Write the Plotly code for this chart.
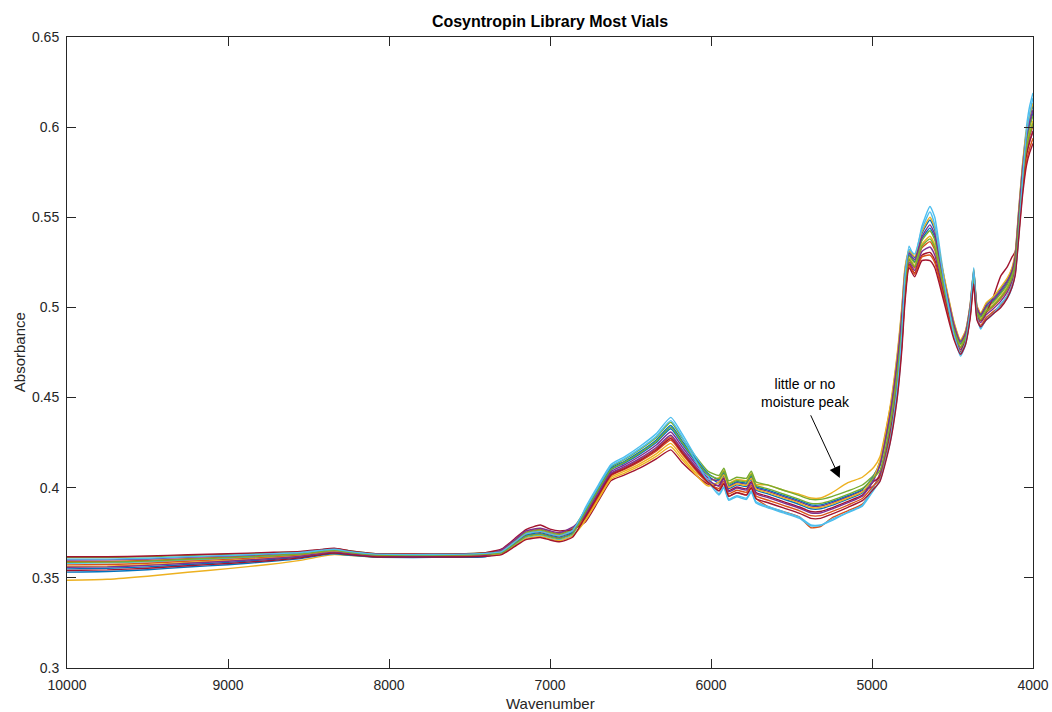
import plotly.graph_objects as go

# Wavenumber grid (cm^-1), shared by every vial spectrum
WAVENUMBER = [
    10000, 9750, 9500, 9250, 9000, 8750, 8550, 8420, 8340, 8250, 8100, 7850, 7600, 7400,
    7300, 7220, 7150, 7060, 7000, 6940, 6860, 6780, 6700, 6620, 6540, 6440, 6340, 6250,
    6180, 6100, 6020, 5950, 5920, 5890, 5840, 5780, 5750, 5720, 5650, 5550, 5450, 5380,
    5320, 5250, 5150, 5060,
    4990, 4950, 4890, 4845, 4815, 4795, 4770, 4735, 4690, 4640, 4610, 4570, 4530, 4490,
    4450, 4420, 4390, 4368, 4348, 4325, 4290, 4250, 4200, 4160, 4130, 4110, 4090, 4065,
    4040, 4020, 4000,
]

# Absorbance spectra, one list per vial
VIAL_01 = [0.3550, 0.3553, 0.3561, 0.3574, 0.3586, 0.3601, 0.3616, 0.3633, 0.3640, 0.3632, 0.3620, 0.3617, 0.3618, 0.3622,
           0.3648, 0.3699, 0.3746, 0.3760, 0.3746, 0.3736, 0.3765, 0.3862, 0.3984, 0.4099, 0.4135, 0.4188, 0.4251, 0.4327, 0.4244, 0.4151, 0.4068, 0.4026, 0.4066, 0.3996, 0.4016, 0.4007, 0.4047, 0.3987, 0.3967, 0.3937, 0.3907, 0.3883, 0.3883, 0.3902, 0.3937, 0.3971,
           0.4052, 0.4124, 0.4384, 0.4670, 0.4940, 0.5174, 0.5292, 0.5254, 0.5380, 0.5440, 0.5388, 0.5210, 0.5046, 0.4892, 0.4800, 0.4850, 0.5000, 0.5190, 0.4990, 0.4950, 0.5002, 0.5032, 0.5084, 0.5134, 0.5194, 0.5276, 0.5490, 0.5752, 0.5934, 0.6016, 0.6078]
VIAL_02 = [0.3590, 0.3591, 0.3597, 0.3606, 0.3615, 0.3625, 0.3634, 0.3648, 0.3654, 0.3643, 0.3629, 0.3626, 0.3627, 0.3633,
           0.3653, 0.3706, 0.3754, 0.3769, 0.3755, 0.3745, 0.3775, 0.3842, 0.3961, 0.4076, 0.4110, 0.4158, 0.4216, 0.4282, 0.4204, 0.4116, 0.4038, 0.3984, 0.4024, 0.3954, 0.3974, 0.3961, 0.4001, 0.3941, 0.3897, 0.3867, 0.3837, 0.3778, 0.3785, 0.3832, 0.3872, 0.3909,
           0.4004, 0.4082, 0.4324, 0.4595, 0.4865, 0.5114, 0.5262, 0.5219, 0.5330, 0.5365, 0.5318, 0.5160, 0.5006, 0.4862, 0.4775, 0.4825, 0.4975, 0.5165, 0.4965, 0.4925, 0.4972, 0.5002, 0.5049, 0.5099, 0.5159, 0.5236, 0.5440, 0.5697, 0.5874, 0.5951, 0.6008]
VIAL_03 = [0.3487, 0.3492, 0.3509, 0.3531, 0.3551, 0.3574, 0.3597, 0.3619, 0.3629, 0.3625, 0.3616, 0.3616, 0.3618, 0.3623,
           0.3640, 0.3702, 0.3748, 0.3763, 0.3749, 0.3739, 0.3768, 0.3826, 0.3943, 0.4058, 0.4090, 0.4134, 0.4188, 0.4246, 0.4172, 0.4088, 0.4040, 0.4056, 0.4096, 0.4026, 0.4046, 0.4039, 0.4079, 0.4019, 0.4016, 0.3986, 0.3963, 0.3943, 0.3943, 0.3972, 0.4028, 0.4058,
           0.4112, 0.4173, 0.4432, 0.4625, 0.4895, 0.5138, 0.5274, 0.5233, 0.5350, 0.5395, 0.5346, 0.5180, 0.5022, 0.4874, 0.4785, 0.4835, 0.4985, 0.5175, 0.4975, 0.4935, 0.4984, 0.5014, 0.5063, 0.5113, 0.5173, 0.5252, 0.5460, 0.5719, 0.5898, 0.5977, 0.6036]
VIAL_04 = [0.3599, 0.3600, 0.3605, 0.3614, 0.3621, 0.3630, 0.3639, 0.3651, 0.3658, 0.3646, 0.3632, 0.3628, 0.3629, 0.3635,
           0.3641, 0.3688, 0.3732, 0.3745, 0.3731, 0.3721, 0.3748, 0.3854, 0.3975, 0.4090, 0.4125, 0.4176, 0.4237, 0.4309, 0.4228, 0.4137, 0.4056, 0.4038, 0.4078, 0.4008, 0.4028, 0.4020, 0.4060, 0.4000, 0.3981, 0.3951, 0.3921, 0.3898, 0.3898, 0.3916, 0.3950, 0.3984,
           0.4010, 0.4075, 0.4300, 0.4565, 0.4835, 0.5090, 0.5250, 0.5205, 0.5310, 0.5335, 0.5290, 0.5140, 0.4990, 0.4850, 0.4765, 0.4815, 0.4965, 0.5155, 0.4955, 0.4915, 0.4960, 0.4990, 0.5035, 0.5085, 0.5145, 0.5220, 0.5420, 0.5675, 0.5850, 0.5925, 0.5980]
VIAL_05 = [0.3613, 0.3613, 0.3617, 0.3624, 0.3631, 0.3638, 0.3645, 0.3656, 0.3662, 0.3650, 0.3635, 0.3631, 0.3632, 0.3639,
           0.3651, 0.3704, 0.3751, 0.3766, 0.3752, 0.3742, 0.3771, 0.3878, 0.4002, 0.4117, 0.4155, 0.4212, 0.4279, 0.4363, 0.4276, 0.4179, 0.4092, 0.4068, 0.4108, 0.4038, 0.4058, 0.4052, 0.4092, 0.4032, 0.4016, 0.3986, 0.3956, 0.3935, 0.3935, 0.3951, 0.3982, 0.4015,
           0.4070, 0.4131, 0.4372, 0.4655, 0.4925, 0.5162, 0.5286, 0.5247, 0.5370, 0.5425, 0.5374, 0.5200, 0.5038, 0.4886, 0.4795, 0.4845, 0.4995, 0.5185, 0.4985, 0.4945, 0.4996, 0.5026, 0.5077, 0.5127, 0.5187, 0.5268, 0.5480, 0.5741, 0.5922, 0.6003, 0.6064]
VIAL_06 = [0.3581, 0.3583, 0.3589, 0.3599, 0.3608, 0.3619, 0.3630, 0.3656, 0.3662, 0.3646, 0.3627, 0.3624, 0.3625, 0.3630,
           0.3635, 0.3682, 0.3723, 0.3736, 0.3722, 0.3712, 0.3738, 0.3890, 0.4015, 0.4130, 0.4170, 0.4230, 0.4300, 0.4390, 0.4300, 0.4179, 0.4068, 0.3966, 0.4006, 0.3936, 0.3956, 0.3942, 0.3982, 0.3922, 0.3897, 0.3867, 0.3837, 0.3793, 0.3793, 0.3818, 0.3865, 0.3903,
           0.4008, 0.4054, 0.4240, 0.4490, 0.4790, 0.5126, 0.5340, 0.5275, 0.5450, 0.5560, 0.5500, 0.5270, 0.5044, 0.4848, 0.4730, 0.4790, 0.4963, 0.5220, 0.4953, 0.4880, 0.4942, 0.4972, 0.5007, 0.5050, 0.5110, 0.5196, 0.5418, 0.5766, 0.6006, 0.6120, 0.6190]
VIAL_07 = [0.3617, 0.3617, 0.3621, 0.3628, 0.3634, 0.3641, 0.3647, 0.3658, 0.3664, 0.3651, 0.3636, 0.3632, 0.3633, 0.3640,
           0.3661, 0.3717, 0.3768, 0.3793, 0.3770, 0.3760, 0.3768, 0.3810, 0.3925, 0.4040, 0.4070, 0.4110, 0.4160, 0.4210, 0.4140, 0.4074, 0.4020, 0.4014, 0.4054, 0.3984, 0.4004, 0.3994, 0.4034, 0.3974, 0.3953, 0.3923, 0.3893, 0.3868, 0.3868, 0.3888, 0.3924, 0.3959,
           0.4034, 0.4061, 0.4276, 0.4535, 0.4805, 0.5066, 0.5238, 0.5191, 0.5290, 0.5305, 0.5262, 0.5120, 0.4974, 0.4838, 0.4755, 0.4823, 0.4977, 0.5163, 0.4967, 0.4927, 0.4974, 0.5050, 0.5175, 0.5225, 0.5280, 0.5310, 0.5450, 0.5672, 0.5846, 0.5922, 0.5975]
VIAL_08 = [0.3532, 0.3535, 0.3545, 0.3560, 0.3573, 0.3590, 0.3607, 0.3626, 0.3634, 0.3626, 0.3615, 0.3613, 0.3614, 0.3617,
           0.3643, 0.3693, 0.3737, 0.3751, 0.3737, 0.3727, 0.3755, 0.3870, 0.3993, 0.4108, 0.4145, 0.4200, 0.4265, 0.4345, 0.4260, 0.4165, 0.4080, 0.4044, 0.4084, 0.4014, 0.4034, 0.4026, 0.4066, 0.4006, 0.3988, 0.3958, 0.3928, 0.3905, 0.3905, 0.3923, 0.3956, 0.3990,
           0.4064, 0.4145, 0.4420, 0.4715, 0.4985, 0.5210, 0.5310, 0.5277, 0.5410, 0.5485, 0.5430, 0.5240, 0.5070, 0.4910, 0.4815, 0.4865, 0.5015, 0.5205, 0.5005, 0.4965, 0.5020, 0.5052, 0.5105, 0.5155, 0.5215, 0.5300, 0.5520, 0.5785, 0.5970, 0.6055, 0.6120]
VIAL_09 = [0.3572, 0.3574, 0.3581, 0.3592, 0.3602, 0.3614, 0.3626, 0.3641, 0.3648, 0.3638, 0.3625, 0.3622, 0.3623, 0.3628,
           0.3647, 0.3697, 0.3743, 0.3757, 0.3743, 0.3733, 0.3761, 0.3834, 0.3952, 0.4067, 0.4100, 0.4146, 0.4202, 0.4264, 0.4188, 0.4102, 0.4026, 0.3996, 0.4036, 0.3966, 0.3986, 0.3974, 0.4014, 0.3954, 0.3932, 0.3902, 0.3872, 0.3845, 0.3845, 0.3867, 0.3904, 0.3940,
           0.4012, 0.4050, 0.4264, 0.4520, 0.4788, 0.5054, 0.5232, 0.5184, 0.5280, 0.5290, 0.5248, 0.5110, 0.4966, 0.4832, 0.4750, 0.4800, 0.4950, 0.5140, 0.4940, 0.4900, 0.4944, 0.4974, 0.5014, 0.5064, 0.5124, 0.5198, 0.5390, 0.5642, 0.5814, 0.5886, 0.5938]
VIAL_10 = [0.3563, 0.3565, 0.3573, 0.3585, 0.3596, 0.3609, 0.3622, 0.3638, 0.3645, 0.3635, 0.3623, 0.3620, 0.3621, 0.3626,
           0.3632, 0.3677, 0.3718, 0.3730, 0.3716, 0.3706, 0.3732, 0.3818, 0.3934, 0.4049, 0.4080, 0.4122, 0.4174, 0.4228, 0.4156, 0.4078, 0.4010, 0.4032, 0.4072, 0.4002, 0.4022, 0.4013, 0.4053, 0.3993, 0.3974, 0.3944, 0.3914, 0.3890, 0.3890, 0.3909, 0.3943, 0.3977,
           0.4058, 0.4152, 0.4436, 0.4730, 0.5000, 0.5222, 0.5316, 0.5282, 0.5420, 0.5500, 0.5444, 0.5250, 0.5078, 0.4916, 0.4820, 0.4870, 0.5020, 0.5210, 0.5010, 0.4970, 0.5026, 0.5056, 0.5112, 0.5162, 0.5222, 0.5308, 0.5530, 0.5796, 0.5982, 0.6068, 0.6134]
VIAL_11 = [0.3559, 0.3561, 0.3569, 0.3581, 0.3592, 0.3606, 0.3620, 0.3636, 0.3643, 0.3634, 0.3622, 0.3619, 0.3620, 0.3624,
           0.3656, 0.3710, 0.3760, 0.3775, 0.3761, 0.3751, 0.3781, 0.3846, 0.3966, 0.4081, 0.4115, 0.4164, 0.4223, 0.4291, 0.4212, 0.4123, 0.4044, 0.4008, 0.4048, 0.3978, 0.3998, 0.3987, 0.4027, 0.3967, 0.3946, 0.3916, 0.3886, 0.3860, 0.3860, 0.3881, 0.3917, 0.3953,
           0.4040, 0.4128, 0.4396, 0.4688, 0.4958, 0.5189, 0.5301, 0.5264, 0.5393, 0.5458, 0.5405, 0.5223, 0.5057, 0.4901, 0.4808, 0.4858, 0.5008, 0.5198, 0.4998, 0.4958, 0.5011, 0.5041, 0.5094, 0.5144, 0.5204, 0.5287, 0.5503, 0.5766, 0.5949, 0.6032, 0.6095]
VIAL_12 = [0.3586, 0.3587, 0.3593, 0.3603, 0.3612, 0.3622, 0.3632, 0.3646, 0.3653, 0.3642, 0.3628, 0.3625, 0.3626, 0.3632,
           0.3639, 0.3686, 0.3729, 0.3742, 0.3728, 0.3718, 0.3745, 0.3866, 0.3988, 0.4103, 0.4140, 0.4194, 0.4258, 0.4336, 0.4252, 0.4158, 0.4074, 0.4050, 0.4090, 0.4020, 0.4040, 0.4033, 0.4073, 0.4013, 0.3995, 0.3965, 0.3935, 0.3913, 0.3913, 0.3930, 0.3963, 0.3996,
           0.4056, 0.4096, 0.4336, 0.4610, 0.4880, 0.5128, 0.5268, 0.5226, 0.5340, 0.5380, 0.5332, 0.5170, 0.5014, 0.4868, 0.4780, 0.4830, 0.4980, 0.5170, 0.4970, 0.4930, 0.4978, 0.5008, 0.5056, 0.5106, 0.5166, 0.5244, 0.5446, 0.5708, 0.5886, 0.5964, 0.6022]
VIAL_13 = [0.3604, 0.3604, 0.3609, 0.3617, 0.3624, 0.3633, 0.3641, 0.3653, 0.3659, 0.3647, 0.3633, 0.3629, 0.3630, 0.3636,
           0.3646, 0.3698, 0.3744, 0.3758, 0.3744, 0.3734, 0.3762, 0.3882, 0.4006, 0.4121, 0.4160, 0.4218, 0.4286, 0.4372, 0.4284, 0.4156, 0.4038, 0.3960, 0.4000, 0.3930, 0.3950, 0.3935, 0.3975, 0.3915, 0.3890, 0.3860, 0.3830, 0.3788, 0.3790, 0.3825, 0.3862, 0.3898,
           0.3986, 0.4040, 0.4252, 0.4538, 0.4850, 0.5177, 0.5322, 0.5296, 0.5433, 0.5530, 0.5458, 0.5243, 0.5030, 0.4844, 0.4745, 0.4805, 0.4982, 0.5213, 0.4938, 0.4890, 0.4930, 0.4960, 0.5021, 0.5062, 0.5122, 0.5188, 0.5380, 0.5712, 0.5966, 0.6081, 0.6162]
VIAL_14 = [0.3541, 0.3544, 0.3553, 0.3567, 0.3580, 0.3595, 0.3611, 0.3629, 0.3637, 0.3629, 0.3617, 0.3615, 0.3616, 0.3620,
           0.3629, 0.3673, 0.3712, 0.3724, 0.3710, 0.3700, 0.3725, 0.3838, 0.3957, 0.4072, 0.4105, 0.4152, 0.4209, 0.4273, 0.4196, 0.4109, 0.4032, 0.3982, 0.4022, 0.3952, 0.3972, 0.3959, 0.3999, 0.3939, 0.3918, 0.3888, 0.3858, 0.3830, 0.3830, 0.3853, 0.3891, 0.3928,
           0.3992, 0.4036, 0.4236, 0.4486, 0.4760, 0.5030, 0.5220, 0.5170, 0.5260, 0.5260, 0.5220, 0.5090, 0.4950, 0.4820, 0.4740, 0.4792, 0.4940, 0.5130, 0.4930, 0.4892, 0.4932, 0.4962, 0.5000, 0.5052, 0.5112, 0.5180, 0.5370, 0.5620, 0.5790, 0.5860, 0.5910]

VIALS = [VIAL_01, VIAL_02, VIAL_03, VIAL_04, VIAL_05, VIAL_06, VIAL_07,
         VIAL_08, VIAL_09, VIAL_10, VIAL_11, VIAL_12, VIAL_13, VIAL_14]

X_TICKS = [10000, 9000, 8000, 7000, 6000, 5000, 4000]
Y_TICKS = [0.3, 0.35, 0.4, 0.45, 0.5, 0.55, 0.6, 0.65]
Y_TICK_LABELS = ["0.3", "0.35", "0.4", "0.45", "0.5", "0.55", "0.6", "0.65"]

# default MATLAB line colour order
LINE_COLORS = ["#0072BD", "#D95319", "#EDB120", "#7E2F8E", "#77AC30", "#4DBEEE", "#A2142F"]

AXIS_COLOR = "#262626"
FONT = "Liberation Sans, Arial, Helvetica, sans-serif"

fig = go.Figure()
for i, spectrum in enumerate(VIALS):
    assert len(spectrum) == len(WAVENUMBER)
    fig.add_trace(go.Scatter(
        x=WAVENUMBER, y=spectrum, mode="lines",
        line=dict(color=LINE_COLORS[i % len(LINE_COLORS)], width=1.4, shape="spline", smoothing=0.5),
        hoverinfo="skip", showlegend=False,
    ))

axis_common = dict(
    showline=True, linecolor=AXIS_COLOR, linewidth=1, mirror="ticks",
    ticks="inside", ticklen=9, tickwidth=1, tickcolor=AXIS_COLOR,
    showgrid=False, zeroline=False, automargin=False,
    tickfont=dict(family=FONT, size=14, color=AXIS_COLOR),
)

fig.update_layout(
    width=1052, height=712,
    margin=dict(l=67, r=19, t=37, b=44),
    paper_bgcolor="white", plot_bgcolor="white",
    showlegend=False,
    font=dict(family=FONT, size=14, color=AXIS_COLOR),
    title=dict(
        text="<b>Cosyntropin Library Most Vials</b>",
        font=dict(family=FONT, size=16, color="#000000"),
        x=0.5, xref="paper", y=1 - 21 / 712, yref="container",
        xanchor="center", yanchor="middle",
    ),
    xaxis=dict(range=[10000, 4000], tickvals=X_TICKS, tickformat="d",
               ticklabelstandoff=4, **axis_common),
    yaxis=dict(range=[0.3, 0.65], tickvals=Y_TICKS, ticktext=Y_TICK_LABELS,
               ticklabelstandoff=4, **axis_common),
    annotations=[
        dict(text="Wavenumber", xref="paper", yref="paper", x=0.5, y=-0.057,
             xanchor="center", yanchor="middle", showarrow=False,
             font=dict(family=FONT, size=15, color=AXIS_COLOR)),
        dict(text="Absorbance", xref="paper", yref="paper", x=-0.049, y=0.5,
             xanchor="center", yanchor="middle", textangle=-90, showarrow=False,
             font=dict(family=FONT, size=15, color=AXIS_COLOR)),
        dict(text="little or no<br>moisture peak", xref="x", yref="y", x=5410, y=0.4525,
             xanchor="center", yanchor="middle", align="center", showarrow=False,
             font=dict(family=FONT, size=14, color="#000000")),
        dict(text="", xref="x", yref="y", x=5200, y=0.4054,
             axref="x", ayref="y", ax=5385, ay=0.4410,
             showarrow=True, arrowhead=2, arrowsize=2.3, arrowwidth=1, arrowcolor="#000000"),
    ],
)

fig.write_html("out.html")
